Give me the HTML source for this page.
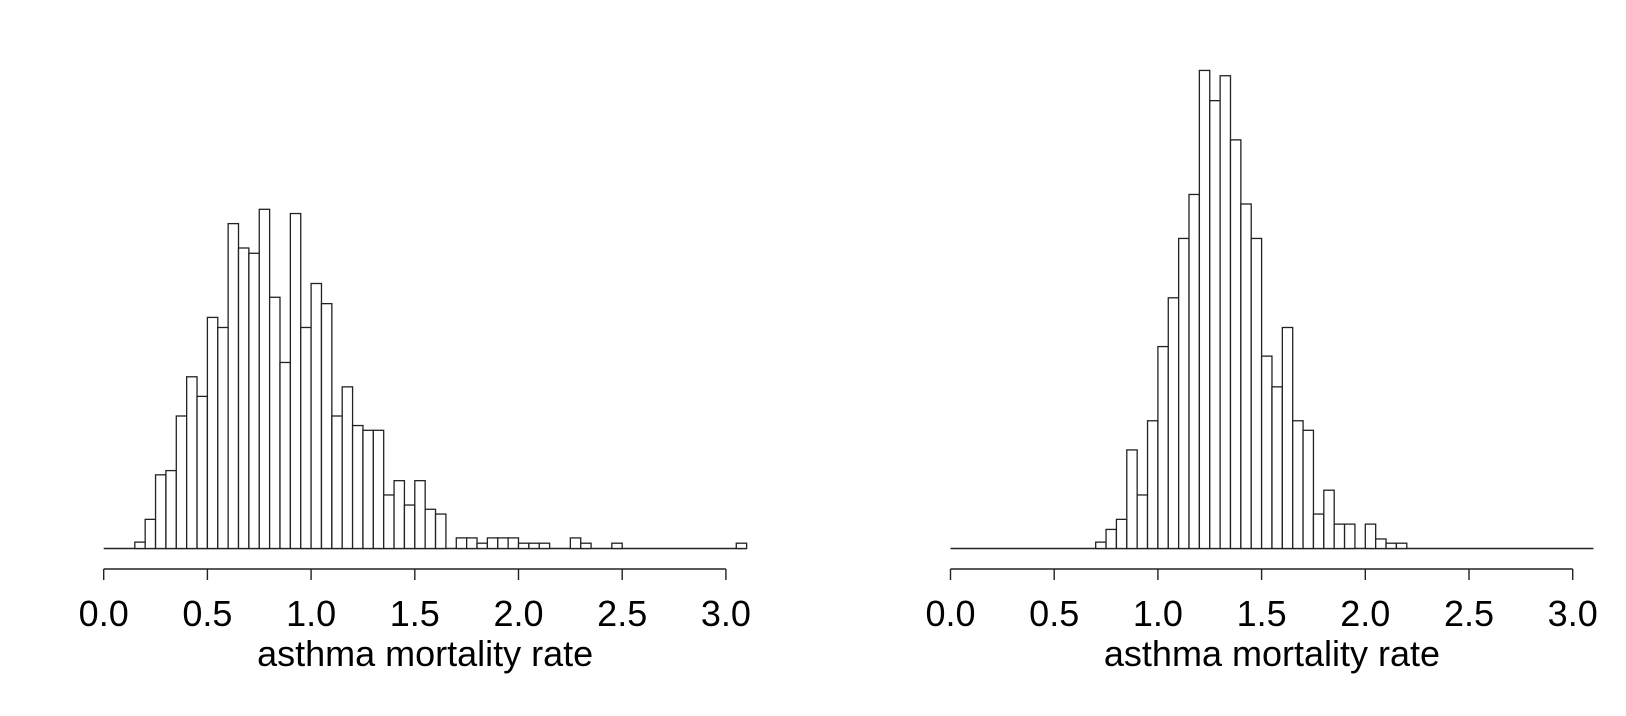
<!DOCTYPE html>
<html><head><meta charset="utf-8"><style>
html,body{margin:0;padding:0;background:#fff;}
svg{display:block;}
text{font-family:"Liberation Sans",Arial,sans-serif;fill:#000;}
</style></head>
<body>
<svg id="chart" width="1626" height="716" viewBox="0 0 1626 716" xmlns="http://www.w3.org/2000/svg"></svg>
<script>
// Left histogram: bin starts and counts
const leftBinStart = 0.15;
const leftCounts = [1.2,5.5,13.9,14.7,25.0,32.4,28.7,43.6,41.7,61.3,56.7,55.7,64.0,47.4,35.1,63.2,41.7,50.0,46.2,25.0,30.5,23.2,22.3,22.3,10.1,12.8,8.2,12.8,7.4,6.5,0,2,2,1,2,2,2,1,1,1,0,0,2,1,0,0,1,0,0,0,0,0,0,0,0,0,0,0,1];
// Right histogram
const rightBinStart = 0.70;
const rightCounts = [1.2,3.6,5.5,18.6,10.1,24.1,38.1,47.3,58.5,66.8,90.2,84.5,89.2,77.1,65.0,58.5,36.3,30.5,41.7,24.1,22.3,6.5,11.0,4.6,4.6,0,4.6,1.8,1,1];
const binWidth = 0.05;
const tickValues = [0,0.5,1,1.5,2,2.5,3];
const tickLabels = ["0.0","0.5","1.0","1.5","2.0","2.5","3.0"];
const xTitle = "asthma mortality rate";

const svg = document.getElementById('chart');
const NS = 'http://www.w3.org/2000/svg';
const baseY = 548.5, pxPerCount = 5.3, pxPerUnit = 207.4;
function mk(tag, attrs){const e=document.createElementNS(NS,tag);for(const k in attrs)e.setAttribute(k,attrs[k]);return e;}

function panel(x0, counts, start, name){
  const g = mk('g',{});
  
  
  svg.appendChild(g);
  const xs = v => x0 + v*pxPerUnit;
  const ys = c => baseY - c*pxPerCount;
  // baseline line 0..3.1
  const bl = mk('line',{x1:xs(0),x2:xs(3.1),y1:baseY,y2:baseY,stroke:'#222','stroke-width':1.4});
  
  
  g.appendChild(bl);
  counts.forEach((c,i)=>{
    if(c<=0) return;
    const a = start + i*binWidth;
    const r = mk('rect',{x:xs(a),y:ys(c),width:binWidth*pxPerUnit,height:c*pxPerCount,fill:'#fff',stroke:'#222','stroke-width':1.3});
    
    
    g.appendChild(r);
  });
  const ax = mk('line',{x1:xs(0),x2:xs(3),y1:569,y2:569,stroke:'#222','stroke-width':1.4});
  
  
  g.appendChild(ax);
  tickValues.forEach((v,i)=>{
    const t = mk('line',{x1:xs(v),x2:xs(v),y1:569,y2:580,stroke:'#222','stroke-width':1.4});
    
    
    g.appendChild(t);
    const l = mk('text',{x:xs(v),y:626,'text-anchor':'middle','font-size':36});
    l.textContent = tickLabels[i];
    
    
    g.appendChild(l);
  });
  const tt = mk('text',{x:xs(1.55),y:666,'text-anchor':'middle','font-size':36});
  tt.textContent = xTitle;
  
  
  g.appendChild(tt);
}
panel(103.7, leftCounts, leftBinStart, 'left-histogram');
panel(950.5, rightCounts, rightBinStart, 'right-histogram');
</script>
</body></html>
